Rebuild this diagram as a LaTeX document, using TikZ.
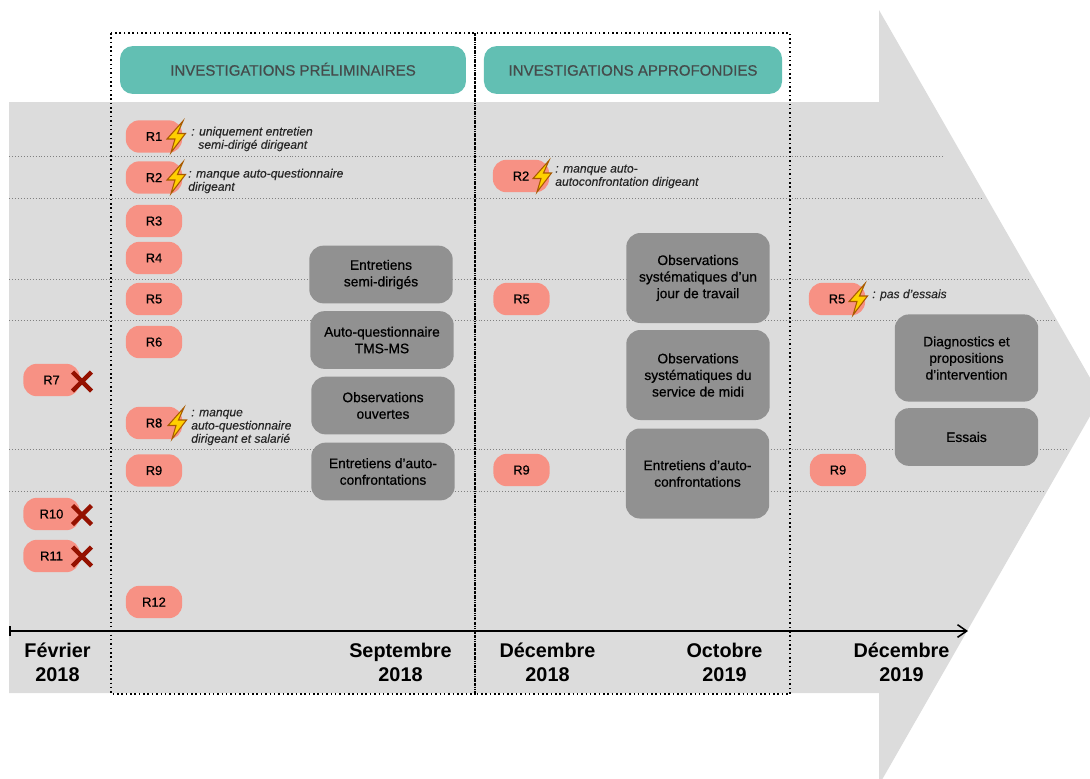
\documentclass[tikz,border=0pt]{standalone}
\usepackage{fontspec}
\setmainfont{Liberation Sans}
\newfontface\medfont{Liberation Sans}[FakeBold=0.6]
\newfontface\meditfont{Liberation Sans Italic}[FakeBold=0.15]
\usepackage{tikz}
\usetikzlibrary{arrows.meta, positioning, calc}
\definecolor{bandgray}{HTML}{DCDCDC}
\definecolor{headteal}{HTML}{62BFB3}
\definecolor{headtext}{HTML}{454B4B}
\definecolor{salmon}{HTML}{F79184}
\definecolor{boxgray}{HTML}{919191}
\definecolor{crossred}{HTML}{941100}
\definecolor{boltyellow}{HTML}{FFD000}
\definecolor{boltedge}{HTML}{A85A00}
\tikzstyle{header} = [rectangle, rounded corners=9pt, minimum height=34pt, fill=headteal, text=headtext, text height=8pt, text depth=0pt, font=\fontsize{10.7}{12}\medfont]
\tikzstyle{respondent} = [rectangle, rounded corners=9.5pt, minimum width=40pt, minimum height=23pt, inner sep=0pt, fill=salmon, font=\fontsize{9.2}{11}\medfont]
\tikzstyle{activity} = [rectangle, rounded corners=10pt, minimum width=102pt, fill=boxgray, align=center, inner sep=0pt, font=\fontsize{9.8}{11.8}\medfont]
\tikzstyle{remark} = [anchor=west, align=left, inner sep=0pt, text=black!85, font=\fontsize{8.6}{9.9}\meditfont]
\tikzstyle{period} = [align=center, inner sep=0pt, font=\fontsize{14.1}{17}\selectfont\bfseries]
\tikzstyle{rowline} = [dash pattern=on 0.7pt off 1.4pt, black!50, line width=0.6pt]
\tikzstyle{frameline} = [black, line width=1.1pt, dotted]
\tikzstyle{arrow} = [line width=1.1pt,{Bar[width=7pt]}-{Straight Barb[length=6.5pt,width=9pt]}]
\tikzstyle{crossmark} = [crossred, line width=3.2pt]
\tikzstyle{bolt} = [fill=boltyellow, draw=boltedge, line width=0.75pt, line join=miter]
% lightning mark and red cross, centred on a coordinate
\newcommand{\boltat}[1]{\draw[bolt, shift={(#1)}] (7,-15.5) -- (-9,2.5) -- (-1,2.5) -- (-5,16) -- (9.5,-3) -- (1.5,-3) -- cycle;}
\newcommand{\crossat}[1]{\draw[crossmark, shift={(#1)}] (-9.5,-9.5) -- (9.5,9.5) (-9.5,9.5) -- (9.5,-9.5);}
\begin{document}
\begin{tikzpicture}[x=0.025cm, y=-0.025cm]
\useasboundingbox (0,0) rectangle (1090,778);
\clip (0,0) rectangle (1090,778);

% big arrow behind everything
\fill[bandgray] (9,102) -- (879,102) -- (879,10) -- (1101,397) -- (879,785) -- (879,693) -- (9,693) -- cycle;

% rows
\draw[rowline] (9,156) -- (945,156);
\draw[rowline] (9,198) -- (982,198);
\draw[rowline] (9,279) -- (1029,279);
\draw[rowline] (9,320) -- (1055,320);
\draw[rowline] (9,449) -- (1069,449);
\draw[rowline] (9,491) -- (1045,491);

% time line
\coordinate (Tstart) at (9,631);
\coordinate (Tend) at (968,631);
\draw[arrow] (Tstart) -- (Tend);

% dotted frames
\draw[frameline] (111,33) rectangle (475,694);
\draw[frameline] (475,33) rectangle (790,694);

\node (Hprelim) [header, minimum width=246pt] at (293,70) {INVESTIGATIONS PRÉLIMINAIRES};
\node (Happrof) [header, minimum width=212pt] at (633,70) {INVESTIGATIONS APPROFONDIES};

% first column
\node (R1a) [respondent] at (154,136.5) {R1};
\node (R2a) [respondent] at (154,177.5) {R2};
\node (R3a) [respondent] at (154,221) {R3};
\node (R4a) [respondent] at (154,258) {R4};
\node (R5a) [respondent] at (154,299) {R5};
\node (R6a) [respondent] at (154,342) {R6};
\node (R8a) [respondent] at (154,423) {R8};
\node (R9a) [respondent] at (154,470.5) {R9};
\node (R12a) [respondent] at (154,602) {R12};

% left out
\node (R7) [respondent] at (51.5,380) {R7};
\node (R10) [respondent] at (51.5,514) {R10};
\node (R11) [respondent] at (51.5,556) {R11};
\crossat{82,381.5}
\crossat{82,515}
\crossat{82,556.5}

% second and third columns
\node (R2b) [respondent] at (521,176) {R2};
\node (R5b) [respondent] at (521.5,299) {R5};
\node (R9b) [respondent] at (521.5,470) {R9};
\node (R5c) [respondent] at (837,299) {R5};
\node (R9c) [respondent] at (838,470) {R9};

\boltat{176,136.5}
\boltat{176,177.5}
\boltat{177,423}
\boltat{542,176}
\boltat{858,299}

\node (N1) [remark] at (191,139) {: uniquement entretien\\[-0.5pt]\hspace*{5pt}semi-dirigé dirigeant};
\node (N2) [remark] at (188,181) {: manque auto-questionnaire\\[-0.5pt]dirigeant};
\node (N8) [remark] at (191,427.5) {: manque\\[-0.5pt]auto-questionnaire\\[-0.5pt]dirigeant et salarié};
\node (N2b) [remark] at (555,176.5) {: manque auto-\\[-0.5pt]autoconfrontation dirigeant};
\node (N5c) [remark] at (872,295) {: pas d’essais};

\node (A1) [activity, minimum height=41pt] at (381,274.5) {Entretiens\\semi-dirigés};
\node (A2) [activity, minimum height=41pt] at (382,340) {Auto-questionnaire\\TMS-MS};
\node (A3) [activity, minimum height=41pt] at (383,405.5) {Observations\\ouvertes};
\node (A4) [activity, minimum height=41pt] at (383,471.5) {Entretiens d’auto-\\confrontations};

\node (B1) [activity, minimum height=64pt] at (698,278) {Observations\\systématiques d’un\\jour de travail};
\node (B2) [activity, minimum height=64pt] at (698,375) {Observations\\systématiques du\\service de midi};
\node (B3) [activity, minimum height=64pt] at (697.5,473.5) {Entretiens d’auto-\\confrontations};

\node (C1) [activity, minimum height=62pt] at (966.5,358) {Diagnostics et\\propositions\\d’intervention};
\node (C2) [activity, minimum height=41pt] at (966.5,437) {Essais};

% dates
\node (D1) [period] at (57.5,662) {Février\\2018};
\node (D2) [period] at (400.5,662) {Septembre\\2018};
\node (D3) [period] at (547.5,662) {Décembre\\2018};
\node (D4) [period] at (724.5,662) {Octobre\\2019};
\node (D5) [period] at (901.5,662) {Décembre\\2019};
\end{tikzpicture}
\end{document}
